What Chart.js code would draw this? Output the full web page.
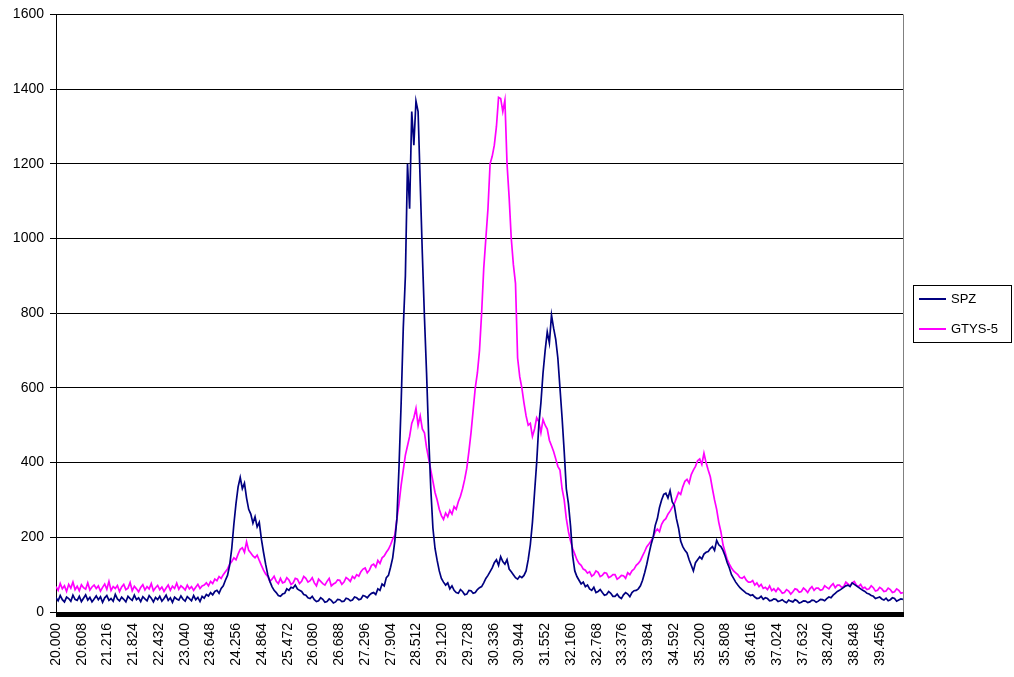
<!DOCTYPE html>
<html>
<head>
<meta charset="utf-8">
<script src="https://cdn.jsdelivr.net/npm/chart.js@4.4.1/dist/chart.umd.min.js"></script>
<style>
  body { margin: 0; background: #fff; }
  #wrap { width: 1014px; height: 677px; position: relative; }
</style>
</head>
<body>
<div id="wrap"><canvas id="xrdChart"></canvas></div>
<script>
// 2-theta scan, one intensity reading every 0.05 degree from 20.00 to 40.00
const START = 20.0, STEP = 0.05;

const spz = [
  38, 30, 44, 33, 27, 40, 36, 29, 45, 34, 31, 42, 28, 37, 46, 32, 39, 27, 35, 43,
  33, 41, 26, 38, 44, 31, 36, 29, 47, 35, 30, 40, 34, 27, 42, 36, 31, 45, 33, 38,
  28, 41, 35, 30, 44, 37, 27, 39, 33, 42, 29, 36, 45, 31, 38, 26, 40, 35, 32, 43,
  34, 29, 41, 36, 30, 44, 33, 39, 28, 42, 37, 47, 43, 52, 46, 55, 58, 50, 63, 70,
  85, 98, 125, 170, 235, 290, 335, 360, 330, 345, 305, 275, 262, 238, 255, 228, 240, 195, 160, 128,
  100, 82, 68, 58, 52, 44, 42, 48, 50, 62, 58, 66, 64, 72, 62, 58, 55, 47, 45, 38,
  36, 42, 33, 28, 30, 38, 34, 26, 28, 35, 31, 24, 27, 34, 33, 28, 29, 37, 35, 30,
  32, 40, 38, 33, 35, 44, 42, 38, 45, 50, 52, 47, 62, 58, 75, 70, 92, 98, 120, 145,
  190, 250, 390, 560, 760, 900, 1200, 1080, 1340, 1250, 1368, 1340, 1150, 960, 790, 640, 470, 330, 225, 170,
  138, 110, 90, 80, 72, 78, 62, 70, 58, 52, 50, 60, 55, 46, 48, 58, 57, 50, 52, 60,
  65, 68, 78, 90, 98, 108, 118, 132, 140, 125, 148, 135, 128, 140, 115, 108, 100, 92, 88, 96,
  92, 98, 110, 140, 180, 240, 320, 400, 500, 560, 640, 700, 750, 720, 795, 760, 730, 680, 600, 520,
  430, 330, 290, 230, 150, 110, 95, 85, 75, 80, 68, 72, 62, 58, 66, 52, 55, 60, 52, 45,
  47, 55, 50, 42, 42, 48, 40, 36, 46, 52, 48, 41, 52, 57, 58, 62, 70, 85, 105, 128,
  155, 180, 200, 232, 250, 280, 300, 315, 318, 305, 325, 295, 285, 250, 225, 190, 175, 165, 158, 140,
  125, 110, 132, 140, 148, 142, 155, 160, 162, 170, 175, 165, 192, 180, 175, 165, 150, 132, 118, 100,
  90, 80, 72, 65, 60, 55, 50, 48, 44, 46, 40, 36, 37, 42, 34, 38, 36, 30, 31, 35,
  34, 28, 30, 33, 28, 25, 32, 29, 27, 33, 30, 24, 26, 30, 29, 25, 27, 32, 31, 26,
  29, 34, 33, 30, 36, 40, 38, 45, 50, 55, 58, 62, 66, 70, 72, 68, 78, 74, 70, 66,
  62, 58, 55, 50, 48, 44, 42, 36, 38, 40, 35, 32, 37, 30, 33, 38, 36, 29, 32, 35,
  34
];

const gtys5 = [
  68, 58, 76, 62, 70, 55, 74, 64, 80, 60, 69, 57, 73, 65, 61, 78, 59, 67, 72, 63,
  70, 56, 66, 75, 61, 82, 58, 68, 63, 71, 55, 67, 74, 60, 64, 79, 57, 69, 62, 54,
  66, 73, 59, 68, 62, 76, 57, 65, 71, 60, 67, 55, 64, 72, 58, 69, 63, 77, 61, 70,
  65, 59, 72, 62, 68, 58, 66, 74, 63, 70, 72, 78, 70, 82, 76, 88, 84, 95, 90, 100,
  108, 115, 128, 135, 145, 140, 155, 168, 172, 160, 188, 165, 158, 150, 145, 152, 138, 125, 112, 102,
  95, 82, 88, 96, 82, 76, 90, 78, 80, 92, 86, 74, 78, 90, 88, 76, 82, 95, 90, 80,
  84, 92, 78, 70, 88, 82, 76, 72, 82, 90, 70, 75, 78, 86, 85, 74, 80, 92, 88, 82,
  95, 90, 100, 96, 108, 115, 118, 105, 112, 125, 128, 120, 138, 130, 145, 150, 160, 168, 180, 195,
  205, 250, 290, 340, 380, 420, 445, 470, 505, 520, 545, 500, 525, 490, 480, 440, 410, 380, 350, 320,
  300, 275, 258, 248, 265, 255, 272, 262, 282, 275, 295, 310, 330, 355, 385, 430, 480, 540, 600, 640,
  700, 800, 920, 1000, 1080, 1200, 1220, 1250, 1300, 1378, 1375, 1340, 1370, 1200, 1110, 1000, 930, 880, 680, 630,
  600, 560, 525, 500, 505, 470, 490, 520, 510, 480, 515, 500, 490, 460, 445, 430, 410, 390, 380, 330,
  300, 250, 215, 190, 170, 155, 140, 130, 125, 115, 112, 104, 108, 96, 100, 110, 106, 95, 98, 105,
  104, 92, 95, 100, 100, 88, 92, 98, 97, 90, 105, 100, 110, 115, 125, 130, 138, 150, 162, 175,
  182, 190, 200, 215, 222, 215, 235, 245, 250, 262, 270, 280, 290, 305, 320, 315, 335, 350, 355, 345,
  368, 380, 390, 405, 410, 395, 425, 400, 380, 362, 330, 300, 275, 240, 215, 180, 160, 140, 128, 118,
  110, 105, 100, 92, 90, 95, 85, 80, 80, 84, 72, 78, 68, 74, 63, 66, 60, 70, 57, 62,
  55, 64, 58, 50, 52, 60, 56, 48, 54, 62, 60, 53, 55, 64, 59, 52, 62, 68, 58, 64,
  64, 58, 60, 70, 66, 62, 70, 76, 65, 72, 72, 66, 68, 80, 75, 70, 78, 82, 72, 68,
  74, 64, 66, 60, 62, 70, 65, 56, 58, 66, 62, 55, 56, 64, 60, 52, 54, 62, 58, 50,
  52
];

// labelled categories along the bottom; a tick mark sits on every 0.016 step
const xTickLabels = [
  '20.000', '20.608', '21.216', '21.824', '22.432', '23.040', '23.648', '24.256',
  '24.864', '25.472', '26.080', '26.688', '27.296', '27.904', '28.512', '29.120',
  '29.728', '30.336', '30.944', '31.552', '32.160', '32.768', '33.376', '33.984',
  '34.592', '35.200', '35.808', '36.416', '37.024', '37.632', '38.240', '38.848',
  '39.456'
];
const MINOR_STEP = 0.016, LABEL_EVERY = 38, X_MIN = 20, X_MAX = 40;

const toPoints = arr => arr.map((v, i) => ({ x: START + i * STEP, y: v }));

// gray frame on the right side of the plot and a boxed legend
const plotFrame = {
  id: 'plotFrame',
  afterDraw(chart) {
    const { ctx, chartArea: a } = chart;
    ctx.save();
    ctx.strokeStyle = '#808080';
    ctx.lineWidth = 1;
    ctx.beginPath();
    ctx.moveTo(a.right + 0.5, a.top);
    ctx.lineTo(a.right + 0.5, a.bottom);
    ctx.stroke();

    const boxL = a.right + 10, boxW = 98, boxH = 57;
    const boxT = Math.round((a.top + a.bottom) / 2 - boxH / 2);
    ctx.strokeStyle = '#000';
    ctx.strokeRect(boxL + 0.5, boxT + 0.5, boxW, boxH);
    ctx.font = '13px "Liberation Sans", Arial, sans-serif';
    ctx.textBaseline = 'middle';
    chart.data.datasets.forEach((ds, i) => {
      const y = boxT + 14 + i * 30;
      ctx.strokeStyle = ds.borderColor;
      ctx.lineWidth = 2;
      ctx.beginPath();
      ctx.moveTo(boxL + 6, y);
      ctx.lineTo(boxL + 33, y);
      ctx.stroke();
      ctx.fillStyle = '#000';
      ctx.fillText(ds.label, boxL + 38, y);
    });
    ctx.restore();
  }
};

const ctx = document.getElementById('xrdChart').getContext('2d');
const xrdChart = new Chart(ctx, {
  type: 'line',
  data: {
    datasets: [{
      label: 'SPZ',
      data: toPoints(spz),
      borderColor: '#000080',
      borderWidth: 1.7,
      pointRadius: 0,
      tension: 0
    }, {
      label: 'GTYS-5',
      data: toPoints(gtys5),
      borderColor: '#FF00FF',
      borderWidth: 1.7,
      pointRadius: 0,
      tension: 0
    }]
  },
  options: {
    responsive: true,
    maintainAspectRatio: false,
    animation: false,
    layout: { padding: { top: 14, right: 111, left: 0, bottom: 0 } },
    plugins: {
      legend: { display: false },
      tooltip: { enabled: false }
    },
    scales: {
      x: {
        type: 'linear',
        min: X_MIN,
        max: X_MAX,
        afterBuildTicks: scale => {
          const ticks = [];
          const n = Math.round((X_MAX - X_MIN) / MINOR_STEP);
          for (let k = 0; k <= n; k++) ticks.push({ value: X_MIN + k * MINOR_STEP });
          scale.ticks = ticks;
        },
        afterFit: scale => { scale.height = 65; },
        ticks: {
          autoSkip: false,
          minRotation: 90,
          maxRotation: 90,
          padding: 6,
          color: '#000',
          font: { family: '"Liberation Sans", Arial, sans-serif', size: 14 },
          callback: (value, index) => index % LABEL_EVERY === 0 ? (xTickLabels[index / LABEL_EVERY] || '') : ''
        },
        grid: {
          drawOnChartArea: false,
          drawTicks: true,
          tickLength: 5,
          color: '#000',
          lineWidth: 1
        },
        border: { display: true, color: '#000', width: 1 }
      },
      y: {
        min: 0,
        max: 1600,
        afterFit: scale => { scale.width = 56; },
        ticks: {
          stepSize: 200,
          padding: 6,
          color: '#000',
          font: { family: '"Liberation Sans", Arial, sans-serif', size: 14 },
          callback: value => String(value)
        },
        grid: {
          color: '#000',
          lineWidth: 1,
          tickLength: 6
        },
        border: { display: true, color: '#000', width: 1 }
      }
    }
  },
  plugins: [plotFrame]
});
</script>
</body>
</html>
